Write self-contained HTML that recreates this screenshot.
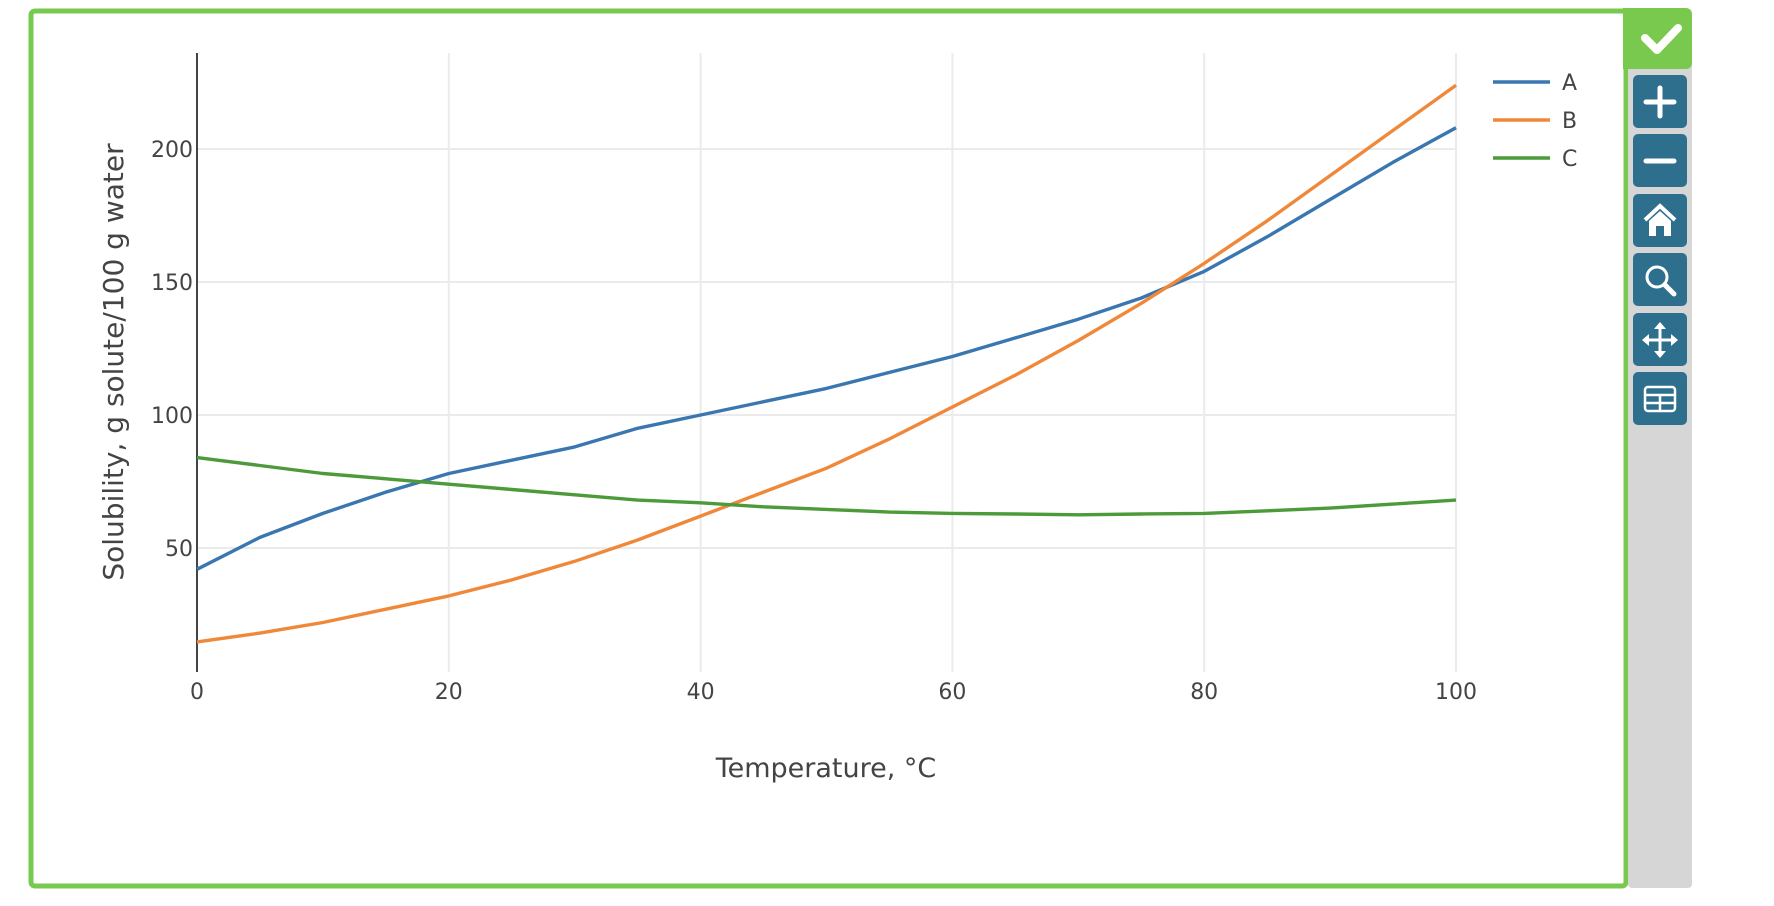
<!DOCTYPE html>
<html><head><meta charset="utf-8"><style>
html,body{margin:0;padding:0;background:#fff;}
svg{display:block;font-family:"DejaVu Sans","Liberation Sans",sans-serif;}
</style></head><body>
<svg id="chart" width="1774" height="906" viewBox="0 0 1774 906" xmlns="http://www.w3.org/2000/svg">
<rect x="31" y="11" width="1595" height="875" rx="4" fill="#fff" stroke="#7ac94f" stroke-width="5"/>
<rect x="1628" y="60" width="64" height="828" rx="4" fill="#d6d6d6"/>
<g>
<path d="M1623 8 H1686 a6 6 0 0 1 6 6 V63 a6 6 0 0 1 -6 6 H1623 Z" fill="#7ac94f"/>
<path d="M1645 38 L1657 50 L1678 28" fill="none" stroke="#fff" stroke-width="8" stroke-linecap="round" stroke-linejoin="round"/>
</g>
<g id="plot"></g>
<g id="toolbar"></g>
</svg>
<script>
const xTicks = [0, 20, 40, 60, 80, 100];
const yTicks = [50, 100, 150, 200];
const temps = [0,5,10,15,20,25,30,35,40,45,50,55,60,65,70,75,80,85,90,95,100];
const seriesA = [42,54,63,71,78,83,88,95,100,105,110,116,122,129,136,144,154,167,181,195,208];
const seriesB = [14.7,18,22,27,32,38,45,53,62,71,80,91,103,115,128,142,157,173,190,207,224];
const seriesC = [84,81,78,76,74,72,70,68,67,65.5,64.5,63.5,63,62.8,62.5,62.8,63,64,65,66.5,68];
const seriesNames = ["A","B","C"];

const NS = "http://www.w3.org/2000/svg";
const X0 = 197, X1 = 1456, Y0 = 681, PXU = 2.66, TOP = 53, BOT = 672;
function xs(v){ return X0 + (X1 - X0) * v / 100; }
function ys(v){ return Y0 - v * PXU; }
function mk(tag, attrs, parent){
  const e = document.createElementNS(NS, tag);
  for (const k in attrs) e.setAttribute(k, attrs[k]);
  parent.appendChild(e); return e;
}
const plot = document.getElementById('plot');
yTicks.forEach(t => {
  const g = mk('line', {x1:X0, x2:X1, y1:ys(t), y2:ys(t), stroke:'#ebebeb', 'stroke-width':2}, plot);
  
  
  const l = mk('text', {x:X0-4, y:ys(t)+8, 'text-anchor':'end', 'font-size':22, fill:'#444'}, plot);
  l.textContent = t;
  
  
});
xTicks.forEach(t => {
  if (t > 0) {
    const g = mk('line', {x1:xs(t), x2:xs(t), y1:TOP, y2:BOT, stroke:'#ebebeb', 'stroke-width':2}, plot);
    
    
  }
  const l = mk('text', {x:xs(t), y:699, 'text-anchor':'middle', 'font-size':22, fill:'#444'}, plot);
  l.textContent = t;
  
  
});
const ax = mk('line', {x1:X0, x2:X0, y1:TOP, y2:BOT, stroke:'#444', 'stroke-width':2}, plot);


const colors = ['#3a76b0', '#f0883a', '#4d9a3a'];
[seriesA, seriesB, seriesC].forEach((s, i) => {
  const d = s.map((v, j) => (j ? 'L' : 'M') + xs(temps[j]).toFixed(1) + ' ' + ys(v).toFixed(1)).join(' ');
  const p = mk('path', {d:d, fill:'none', stroke:colors[i], 'stroke-width':3.4, 'stroke-linejoin':'round'}, plot);
  
  
  const ly = 82 + i * 38;
  const ll = mk('line', {x1:1493, x2:1550, y1:ly, y2:ly, stroke:colors[i], 'stroke-width':3.4}, plot);
  
  
  const lt = mk('text', {x:1562, y:ly+8, 'font-size':22, fill:'#444'}, plot);
  lt.textContent = seriesNames[i];
  
  
});
const xt = mk('text', {x:826, y:777, 'text-anchor':'middle', 'font-size':27, fill:'#444'}, plot);
xt.textContent = 'Temperature, \u00B0C';


const yt = mk('text', {x:0, y:0, 'text-anchor':'middle', 'font-size':28, fill:'#444', transform:'translate(123,362) rotate(-90)'}, plot);
yt.textContent = 'Solubility, g solute/100 g water';



const tb = document.getElementById('toolbar');
const btnNames = ['zoom-in-button','zoom-out-button','home-button','zoom-tool-button','pan-button','data-table-button'];
const btnTops = [75,134,194,253,313,372];
btnNames.forEach((n, i) => {
  const g = mk('g', {}, tb);
  
  
  const y = btnTops[i], cx = 1660, cy = y + 27;
  mk('rect', {x:1633, y:y, width:54, height:53, rx:5, fill:'#2f6f8e'}, g);
  const st = {fill:'none', stroke:'#fff', 'stroke-width':5, 'stroke-linecap':'round'};
  if (i === 0) { mk('path', Object.assign({d:`M${cx-14} ${cy} H${cx+14} M${cx} ${cy-14} V${cy+14}`}, st), g); }
  if (i === 1) { mk('path', Object.assign({d:`M${cx-14} ${cy} H${cx+14}`}, st), g); }
  if (i === 2) {
    mk('path', {d:`M${cx-15} ${cy-1} L${cx} ${cy-15} L${cx+15} ${cy-1}`, fill:'none', stroke:'#fff', 'stroke-width':4}, g);
    mk('path', {d:`M${cx-11} ${cy} L${cx} ${cy-10} L${cx+11} ${cy} V${cy+15} H${cx+4} V${cy+5} H${cx-4} V${cy+15} H${cx-11} Z`, fill:'#fff'}, g);
  }
  if (i === 3) {
    mk('circle', {cx:cx-3, cy:cy-3, r:10, fill:'none', stroke:'#fff', 'stroke-width':3}, g);
    mk('path', Object.assign({d:`M${cx+5} ${cy+5} L${cx+14} ${cy+14}`}, st), g);
  }
  if (i === 4) {
    mk('path', {d:`M${cx-14} ${cy} H${cx+14} M${cx} ${cy-14} V${cy+14}`, stroke:'#fff', 'stroke-width':3}, g);
    mk('path', {d:`M${cx} ${cy-18} l-6 7 h12 Z M${cx} ${cy+18} l-6 -7 h12 Z M${cx-18} ${cy} l7 -6 v12 Z M${cx+18} ${cy} l-7 -6 v12 Z`, fill:'#fff'}, g);
  }
  if (i === 5) {
    mk('rect', {x:cx-15, y:cy-12, width:30, height:24, rx:3, fill:'none', stroke:'#fff', 'stroke-width':2.5}, g);
    mk('path', {d:`M${cx-15} ${cy-4} H${cx+15} M${cx-15} ${cy+4} H${cx+15} M${cx} ${cy-4} V${cy+12}`, stroke:'#fff', 'stroke-width':2.5}, g);
  }
});
</script>
</body></html>
